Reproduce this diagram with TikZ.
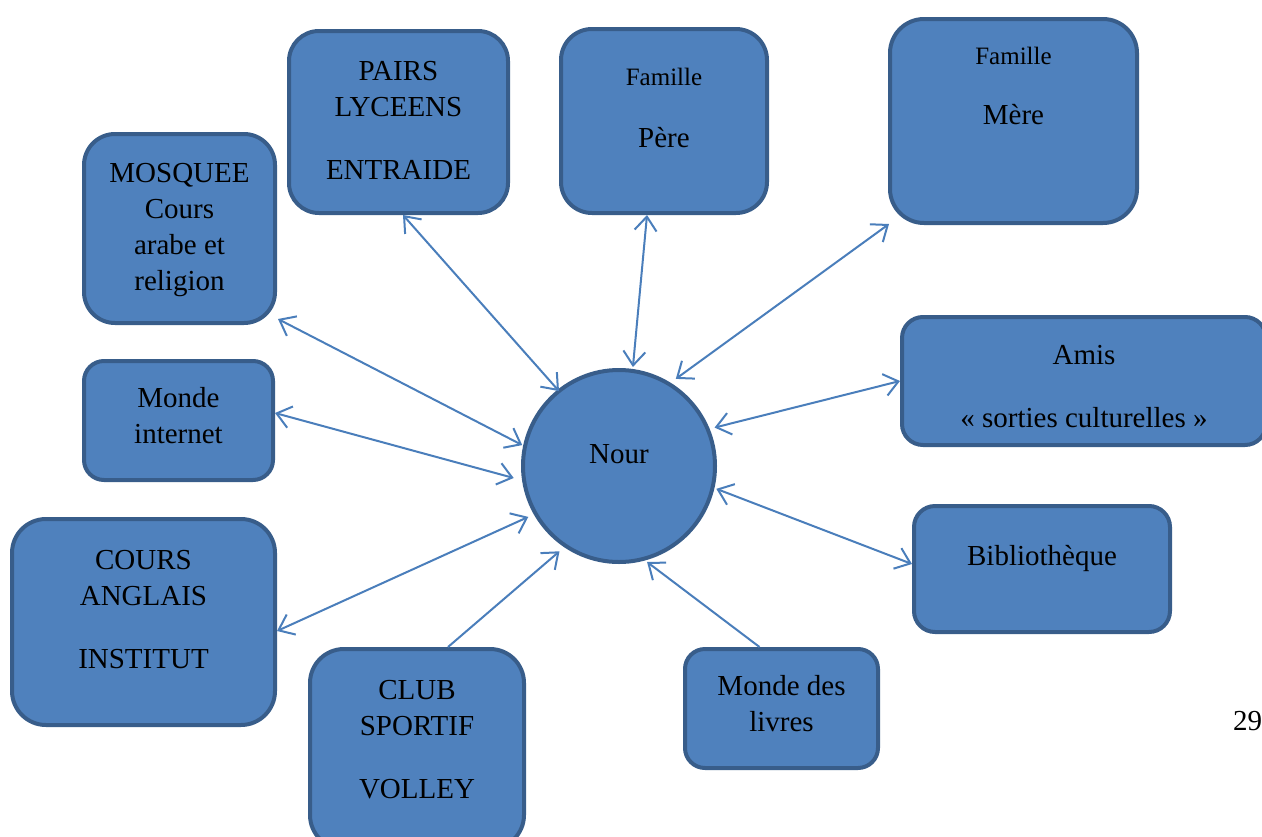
\documentclass[tikz,border=0pt]{standalone}
\usepackage{fontspec}
\setmainfont{Liberation Serif}
\usetikzlibrary{arrows.meta,calc}
\definecolor{boxfill}{HTML}{4F81BD}
\definecolor{boxline}{HTML}{385D8A}
\definecolor{arrcol}{HTML}{4A7EBB}
\newcommand\bigf{\fontsize{29}{36}\selectfont}
\newcommand\smallf{\fontsize{25}{30}\selectfont}
% #1 width, #2 height, #3 top gap, #4 content
\newcommand\btext[4]{\begin{minipage}[c][#2][t]{#1}\centering\bigf\vspace*{#3}#4\end{minipage}}
\tikzset{
  ebox/.style={draw=boxline, fill=boxfill, line width=4pt, inner sep=0pt, anchor=north west, rectangle},
  conn/.style={draw=arrcol, line width=2pt},
  tipb/.tip={Straight Barb[length=14pt,width=22pt]},
  both/.style={conn, tipb-tipb},
  one/.style={conn, -tipb}
}
\begin{document}
\begin{tikzpicture}[x=1pt,y=1pt]
\useasboundingbox (0,0) rectangle (1262,-836);
\clip (0,0) rectangle (1262,-836);

\node[ebox, rounded corners=30pt] (pairs) at (287,-29)
  {\btext{219pt}{182pt}{23.8pt}{\strut PAIRS\\LYCEENS\\[27pt]ENTRAIDE}};
\node[ebox, rounded corners=31pt] (pere) at (559,-27)
  {\btext{206pt}{184pt}{35pt}{{\smallf\strut Famille\par}\vspace{26pt}\strut Père}};
\node[ebox, rounded corners=34pt] (mere) at (888,-17)
  {\btext{247pt}{204pt}{24pt}{{\smallf\strut Famille\par}\vspace{24pt}\strut Mère}};
\node[ebox, rounded corners=31pt] (mosquee) at (82,-132)
  {\btext{191pt}{189pt}{22.8pt}{\strut MOSQUEE\\Cours\\arabe et\\religion}};
\node[ebox, rounded corners=20pt] (internet) at (82,-359)
  {\btext{189pt}{119pt}{20.8pt}{\strut Monde\\internet}};
\node[ebox, rounded corners=34pt] (cours) at (10,-517)
  {\btext{263pt}{206pt}{24.8pt}{\strut COURS\\ANGLAIS\\[27pt]INSTITUT}};
\node[ebox, rounded corners=34pt] (club) at (308,-647)
  {\btext{214pt}{200pt}{24.8pt}{\strut CLUB\\SPORTIF\\[27pt]VOLLEY}};
\node[ebox, rounded corners=20pt] (livres) at (683,-647)
  {\btext{193pt}{119pt}{20.8pt}{\strut Monde des\\livres}};
\node[ebox, rounded corners=21pt] (biblio) at (912,-504)
  {\btext{256pt}{126pt}{33.8pt}{\strut Bibliothèque}};
\node[ebox, rounded corners=21pt] (amis) at (900,-315)
  {\btext{364pt}{128pt}{21.8pt}{\strut Amis\\[27pt]«~sorties culturelles~»}};

\node[circle, draw=boxline, fill=boxfill, line width=4pt, inner sep=0pt,
      minimum size=192pt, text height=10pt, text depth=16pt, font=\bigf]
      (nour) at (619,-466) {Nour};

\node[anchor=base west, inner sep=0pt, font=\bigf] (pagenum) at (1233,-730) {29};

\draw[both] ([xshift=4.5pt]pairs.south) -- ($(nour.center)+(128.7:96pt)$);
\draw[both] ([xshift=-17pt]pere.south) -- ($(nour.center)+(82:100pt)$);
\draw[both] ([shift={(1pt,1pt)}]mere.south west) -- ($(nour.center)+(56.9:104pt)$);
\draw[both] (amis.west) -- ($(nour.center)+(21.9:103pt)$);
\draw[both] ([yshift=5pt]biblio.west) -- ($(nour.center)+(-13.2:100pt)$);
\draw[one] ([xshift=-22pt]livres.north) -- ($(nour.center)+(-73.7:100pt)$);
\draw[one] ([xshift=31pt]club.north) -- ($(nour.center)+(-124.9:104pt)$);
\draw[both] ([yshift=-9pt]cours.east) -- ($(nour.center)+(-150.7:104pt)$);
\draw[both] ([yshift=7.5pt]internet.east) -- ($(nour.center)+(-173.5:106pt)$);
\draw[both] ([shift={(1pt,6pt)}]mosquee.south east) -- ($(nour.center)+(167.8:99pt)$);
\end{tikzpicture}
\end{document}
